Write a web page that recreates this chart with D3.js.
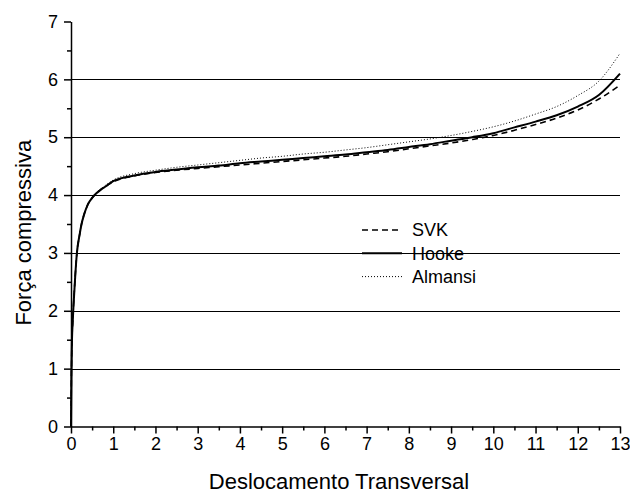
<!DOCTYPE html>
<html><head><meta charset="utf-8">
<script src="https://cdn.jsdelivr.net/npm/d3@7"></script>
<style>
body{margin:0;background:#fff;}
text{font-family:"Liberation Sans",Arial,sans-serif;fill:#000;}
</style></head>
<body><svg id="c" width="630" height="495"></svg>
<script>
const xs =    [0, 0.01, 0.02, 0.04, 0.06, 0.1, 0.14, 0.2, 0.25, 0.3, 0.4, 0.5, 0.6, 0.7, 0.8, 1.0, 1.5, 2.0, 2.5, 3.0, 3.5, 4.0, 4.5, 5.0, 5.5, 6.0, 6.5, 7.0, 7.5, 8.0, 8.5, 9.0, 9.5, 10.0, 10.5, 11.0, 11.5, 12.0, 12.5, 13.0];
const svk =   [0, 0.9, 1.4, 1.8, 2.1, 2.6, 3.0, 3.3, 3.5, 3.64, 3.84, 3.95, 4.03, 4.09, 4.14, 4.23, 4.33, 4.39, 4.43, 4.46, 4.49, 4.52, 4.55, 4.58, 4.61, 4.64, 4.67, 4.71, 4.75, 4.80, 4.85, 4.90, 4.96, 5.03, 5.12, 5.22, 5.33, 5.47, 5.66, 5.90];
const hooke = [0, 0.9, 1.4, 1.8, 2.1, 2.6, 3.0, 3.3, 3.5, 3.64, 3.84, 3.95, 4.03, 4.09, 4.14, 4.24, 4.34, 4.40, 4.44, 4.48, 4.51, 4.55, 4.58, 4.61, 4.64, 4.67, 4.70, 4.74, 4.78, 4.83, 4.88, 4.94, 5.00, 5.07, 5.17, 5.27, 5.38, 5.53, 5.73, 6.10];
const almansi=[0, 0.9, 1.4, 1.8, 2.1, 2.6, 3.0, 3.3, 3.5, 3.64, 3.84, 3.95, 4.04, 4.10, 4.16, 4.26, 4.37, 4.43, 4.48, 4.52, 4.56, 4.60, 4.64, 4.67, 4.71, 4.74, 4.78, 4.82, 4.87, 4.92, 4.97, 5.03, 5.10, 5.18, 5.28, 5.40, 5.53, 5.72, 5.97, 6.45];
const seriesNames = ["SVK", "Hooke", "Almansi"];
const xTicks = [0,1,2,3,4,5,6,7,8,9,10,11,12,13];
const yTicks = [0,1,2,3,4,5,6,7];
const xTitle = "Deslocamento Transversal";
const yTitle = "Força compressiva";

const svg = d3.select("#c");
const m = {l:71, r:10, t:21.5, b:68.5};
const W = 630, H = 495;
const x = d3.scaleLinear().domain([0,13]).range([m.l, W-m.r]);
const y = d3.scaleLinear().domain([0,7]).range([H-m.b, m.t]);

// gridlines
svg.append("g").selectAll("line").data(yTicks.filter(v=>v>0&&v<7)).join("line")
  .attr("x1", x(0)).attr("x2", x(13))
  .attr("y1", d=>Math.round(y(d))+0.5).attr("y2", d=>Math.round(y(d))+0.5)
  .attr("stroke","#000").attr("stroke-width",1);

const styles = {
  SVK: {w:1.6, dash:"6,4", data:svk},
  Hooke: {w:2, dash:null, data:hooke},
  Almansi: {w:1, dash:"1,2", data:almansi}
};
const line = d3.line().x(d=>x(d[0])).y(d=>y(d[1])).curve(d3.curveMonotoneX);
seriesNames.forEach(n=>{
  const s = styles[n];
  svg.append("path").datum(xs.map((v,i)=>[v, s.data[i]]))
    .attr("d", line).attr("fill","none").attr("stroke","#000")
    .attr("stroke-width", s.w).attr("stroke-dasharray", s.dash);
});

// axes
const minorX = d3.range(0, 13.01, 0.5).filter(v=>v%1!==0);
const minorY = d3.range(0, 7.01, 0.5).filter(v=>v%1!==0);
svg.append("g").attr("transform",`translate(0,${y(0)})`)
  .call(d3.axisBottom(x).tickValues(xTicks).tickFormat(d3.format("d")).tickSizeInner(7).tickSizeOuter(0).tickPadding(4));
svg.append("g").attr("transform",`translate(0,${y(0)})`)
  .call(d3.axisBottom(x).tickValues(minorX).tickFormat("").tickSizeInner(4).tickSizeOuter(0))
  .select(".domain").remove();
svg.append("g").attr("transform",`translate(${x(0)},0)`)
  .call(d3.axisLeft(y).tickValues(yTicks).tickFormat(d3.format("d")).tickSizeInner(7).tickSizeOuter(0).tickPadding(6));
svg.append("g").attr("transform",`translate(${x(0)},0)`)
  .call(d3.axisLeft(y).tickValues(minorY).tickFormat("").tickSizeInner(4).tickSizeOuter(0))
  .select(".domain").remove();
svg.selectAll(".tick line, .domain").attr("stroke","#000").attr("stroke-width",1.5);
svg.selectAll(".tick text").style("font-size","18px").style("font-family","'Liberation Sans',Arial,sans-serif");

// titles
svg.append("text").attr("x", 339).attr("y", 489).attr("text-anchor","middle")
  .style("font-size","22px").text(xTitle);
svg.append("text").attr("transform",`translate(31,${y(3.35)}) rotate(-90)`).attr("text-anchor","middle")
  .style("font-size","22px").text(yTitle);

// legend
const lg = svg.append("g");
seriesNames.forEach((n,i)=>{
  const s = styles[n];
  const yy = 230 + i*23.3;
  lg.append("line").attr("x1",362).attr("x2",402).attr("y1",yy).attr("y2",yy)
    .attr("stroke","#000").attr("stroke-width",s.w).attr("stroke-dasharray",s.dash);
  lg.append("text").attr("x",412).attr("y",yy).attr("dy","0.36em").style("font-size","18px").text(n);
});
</script></body></html>
